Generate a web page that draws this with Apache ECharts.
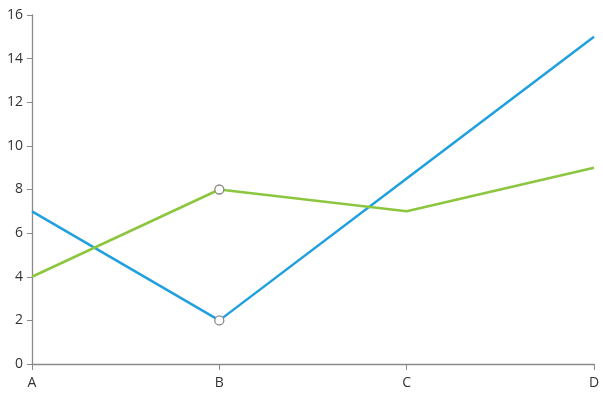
<!DOCTYPE html>
<html><head><meta charset="utf-8">
<script src="https://cdn.jsdelivr.net/npm/echarts@6/dist/echarts.min.js"></script>
<style>html,body{margin:0;padding:0;background:#fff}#c{width:603px;height:401px}</style>
</head><body><div id="c"></div>
<script>
const categories = ['A', 'B', 'C', 'D'];
const blueValues = [7, 2, 8.5, 15];
const greenValues = [4, 8, 7, 9];
const yTicks = [0, 2, 4, 6, 8, 10, 12, 14, 16];
const markedIndex = 1;

function withMarker(arr) {
  return arr.map((v, i) => i === markedIndex
    ? { value: v, symbol: 'circle', symbolSize: 9, itemStyle: { color: '#fff', borderColor: '#8a8a8a', borderWidth: 1.3 } }
    : { value: v, symbol: 'none' });
}

const chart = echarts.init(document.getElementById('c'));
const font = '"Open Sans", "Noto Sans", sans-serif';
chart.setOption({
  animation: false,
  grid: { left: 32, right: 9, top: 15, bottom: 37, containLabel: false },
  xAxis: {
    type: 'category', data: categories, boundaryGap: false,
    axisLine: { lineStyle: { color: '#8a8a8a', width: 1.3 } },
    axisTick: { show: true, length: 6, lineStyle: { color: '#8a8a8a' } },
    axisLabel: { color: '#333', fontSize: 14, fontFamily: font, margin: 12 },
    splitLine: { show: false }
  },
  yAxis: {
    type: 'value', min: yTicks[0], max: yTicks[yTicks.length - 1], interval: 2,
    axisLine: { show: true, lineStyle: { color: '#8a8a8a', width: 1.3 } },
    axisTick: { show: true, length: 5, lineStyle: { color: '#8a8a8a' } },
    axisLabel: { color: '#333', fontSize: 14, fontFamily: font, margin: 9 },
    splitLine: { show: false }
  },
  series: [
    { type: 'line', data: withMarker(blueValues), lineStyle: { color: '#21a0e0', width: 2.5 }, itemStyle: { color: '#21a0e0' }, z: 2 },
    { type: 'line', data: withMarker(greenValues), lineStyle: { color: '#8cc63f', width: 2.5 }, itemStyle: { color: '#8cc63f' }, z: 3 }
  ]
});
</script></body></html>
